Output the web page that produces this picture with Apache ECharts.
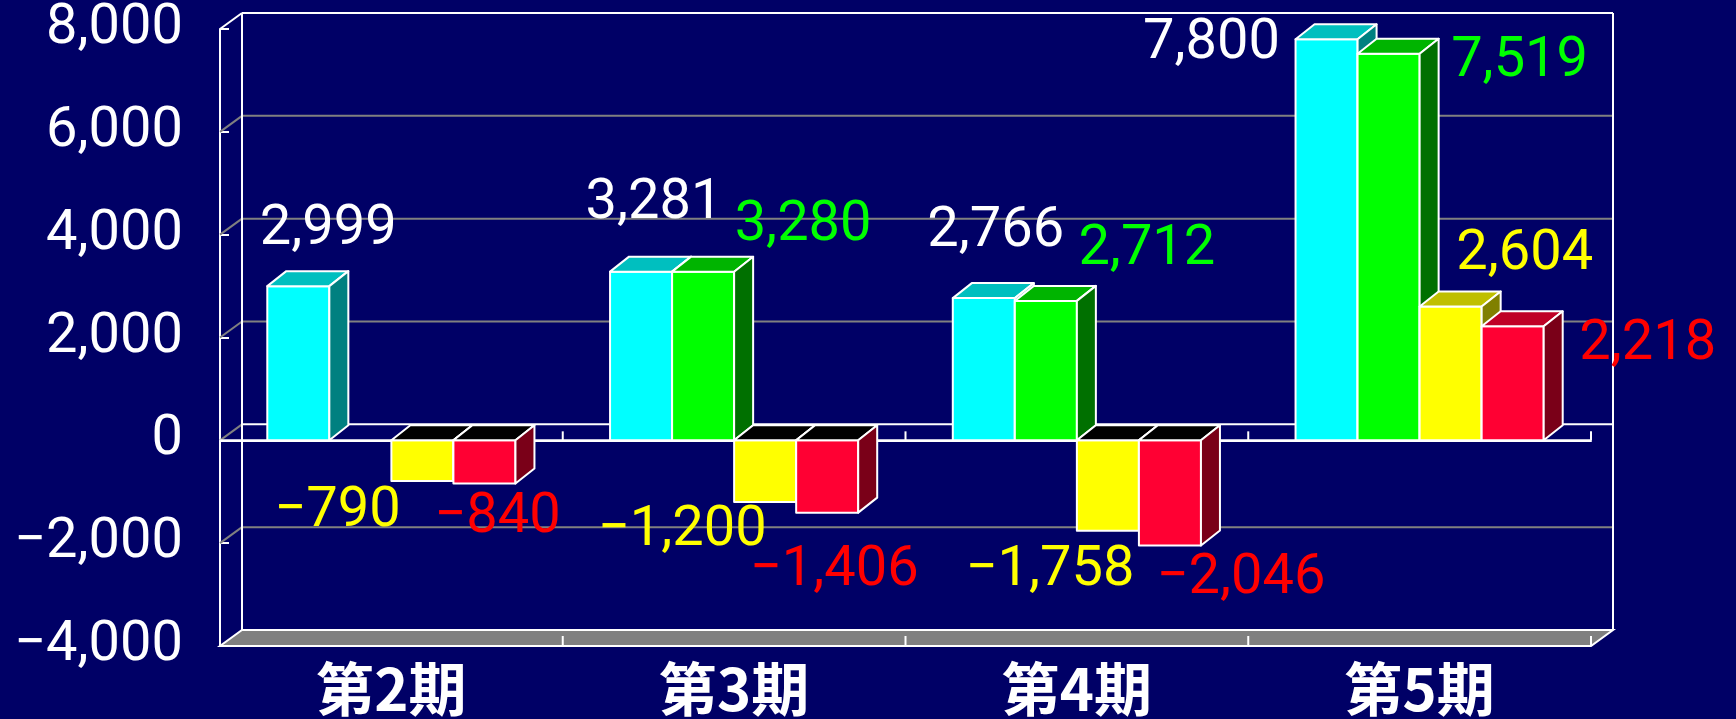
<!DOCTYPE html>
<html>
<head>
<meta charset="utf-8">
<script src="https://cdn.jsdelivr.net/npm/echarts@6/dist/echarts.min.js"></script>
<style>
  html, body { margin: 0; padding: 0; background: #000066; }
  #chart { width: 1736px; height: 719px; }
</style>
</head>
<body>
<div id="chart"></div>
<script>
// データ
const periods = ['第2期', '第3期', '第4期', '第5期'];
const cyanValues = [2999, 3281, 2766, 7800];
const greenValues = [null, 3280, 2712, 7519];
const yellowValues = [-790, -1200, -1758, 2604];
const redValues = [-840, -1406, -2046, 2218];
const yMin = -4000;
const yMax = 8000;
const yStep = 2000;

// 見た目の設定
const WALL_DX = 22, WALL_DY = -16;   // 奥行き（壁）
const BAR_DX = 19, BAR_DY = -15;     // 奥行き（棒）
const BAR_RATIO = 0.181;             // カテゴリ幅に対する棒幅
const EDGE = '#ffffff';
const GRID_GRAY = '#808080';
const NUM_FONT = 'Roboto, "Liberation Sans", sans-serif';

// ラベルのずらし量（棒の先端中央から）
const labelShift = [
  [[30, -56], [13, -68], [12, -66], [-115, 5]],
  [null, [100, -46], [101, -51], [131, 8]],
  [[-85, 31], [-83, 29], [-58, 40], [74, -51]],
  [[13, 34], [7, 58], [71, 33], [135, 19]]
];

const barStyles = [
  {front: '#00ffff', top: '#00bfbf', side: '#008080', label: '#ffffff'},
  {front: '#00ff00', top: '#00b400', side: '#007000', label: '#00ff00'},
  {front: '#ffff00', top: '#bfbf00', side: '#808000', label: '#ffff00'},
  {front: '#ff0033', top: '#bf0026', side: '#7a0018', label: '#ff0000'}
];

function fmt(v) {
  return (v < 0 ? '\u2212' : '') + Math.abs(v).toLocaleString('en-US');
}

// 3D枠（壁・床・目盛線）
function renderFrame(params, api) {
  const bw = api.size([1, 0])[0];
  const left = api.coord([0, 0])[0] - bw / 2;
  const right = api.coord([periods.length - 1, 0])[0] + bw / 2;
  const yTop = api.coord([0, yMax])[1];
  const yBot = api.coord([0, yMin])[1];
  const y0 = api.coord([0, 0])[1];
  const children = [];
  const line = (x1, y1, x2, y2, color, w) => children.push({
    type: 'line', shape: {x1, y1, x2, y2},
    style: {stroke: color, lineWidth: w || 2}
  });

  // 床
  children.push({
    type: 'polygon',
    shape: {points: [[left, yBot], [right, yBot], [right + WALL_DX, yBot + WALL_DY], [left + WALL_DX, yBot + WALL_DY]]},
    style: {fill: GRID_GRAY, stroke: EDGE, lineWidth: 2}
  });

  // 奥の壁の目盛線
  for (let v = yMin + yStep; v < yMax; v += yStep) {
    const y = api.coord([0, v])[1];
    const c = v === 0 ? EDGE : GRID_GRAY;
    line(left + WALL_DX, y + WALL_DY, right + WALL_DX, y + WALL_DY, c);
    line(left, y, left + WALL_DX, y + WALL_DY, GRID_GRAY);
  }

  // 奥の壁の枠
  line(left + WALL_DX, yTop + WALL_DY, right + WALL_DX, yTop + WALL_DY, EDGE);
  line(left + WALL_DX, yTop + WALL_DY, left + WALL_DX, yBot + WALL_DY, EDGE);
  line(right + WALL_DX, yTop + WALL_DY, right + WALL_DX, yBot + WALL_DY, EDGE);
  line(left, yTop, left + WALL_DX, yTop + WALL_DY, EDGE);

  // 0の線と目盛
  line(left, y0, right, y0, EDGE);
  for (let i = 1; i <= periods.length; i++) {
    const x = left + bw * i;
    line(x, y0, x, y0 - 9, EDGE);
    line(x, yBot, x, yBot - 10, EDGE);
  }
  return {type: 'group', children};
}

function makeBarRenderer(si) {
  return function (params, api) {
    const cat = api.value(0);
    const v = api.value(1);
    if (v == null || isNaN(v)) return null;
    const st = barStyles[si];
    const bw = api.size([1, 0])[0] * BAR_RATIO;
    const base = api.coord([cat, 0]);
    const end = api.coord([cat, v]);
    const x0 = base[0] + (si - 2) * bw;
    const x1 = x0 + bw;
    const yt = Math.min(base[1], end[1]);
    const yb = Math.max(base[1], end[1]);
    const sw = {stroke: EDGE, lineWidth: 2, lineJoin: 'round'};
    const children = [
      {type: 'rect', shape: {x: x0, y: yt, width: bw, height: yb - yt},
        style: Object.assign({fill: st.front}, sw)},
      {type: 'polygon', shape: {points: [[x0, yt], [x1, yt], [x1 + BAR_DX, yt + BAR_DY], [x0 + BAR_DX, yt + BAR_DY]]},
        style: Object.assign({fill: v < 0 ? '#000000' : st.top}, sw)},
      {type: 'polygon', shape: {points: [[x1, yt], [x1 + BAR_DX, yt + BAR_DY], [x1 + BAR_DX, yb + BAR_DY], [x1, yb]]},
        style: Object.assign({fill: st.side}, sw)}
    ];
    const sh = labelShift[si][cat] || [0, 0];
    const cx = x0 + bw / 2 + sh[0];
    const cy = (v < 0 ? yb : yt) + sh[1];
    children.push({
      type: 'text', z2: 100,
      style: {
        text: fmt(v), x: cx, y: cy, align: 'center', verticalAlign: 'middle',
        fill: st.label, font: '56px ' + NUM_FONT
      }
    });
    return {type: 'group', children};
  };
}

const seriesValues = [cyanValues, greenValues, yellowValues, redValues];

const chart = echarts.init(document.getElementById('chart'));
const option = {
  backgroundColor: '#000066',
  animation: false,
  grid: {left: 220, right: 145, top: 29, bottom: 73},
  xAxis: {
    type: 'category',
    data: periods,
    axisLine: {show: true, lineStyle: {color: EDGE, width: 2}},
    axisTick: {show: false},
    axisLabel: {
      color: '#ffffff', fontSize: 58, fontWeight: 'bold',
      fontFamily: '"Noto Sans CJK JP", sans-serif', margin: 14
    },
    splitLine: {show: false}
  },
  yAxis: {
    type: 'value',
    min: yMin, max: yMax, interval: yStep,
    axisLine: {show: true, lineStyle: {color: EDGE, width: 2}},
    axisTick: {show: true, inside: true, length: 9, lineStyle: {color: EDGE, width: 2}},
    axisLabel: {
      color: '#ffffff', fontSize: 56, fontFamily: NUM_FONT, margin: 37,
      padding: [8, 0, 0, 0],
      formatter: fmt
    },
    splitLine: {show: false}
  },
  series: [
    {type: 'custom', renderItem: renderFrame, data: [[0, 0]], z: 1, silent: true, clip: false}
  ].concat(seriesValues.map((vals, si) => ({
    type: 'custom',
    renderItem: makeBarRenderer(si),
    data: vals.map((v, i) => [i, v]),
    z: 3 + si,
    clip: false
  })))
};
chart.setOption(option);
</script>
</body>
</html>
